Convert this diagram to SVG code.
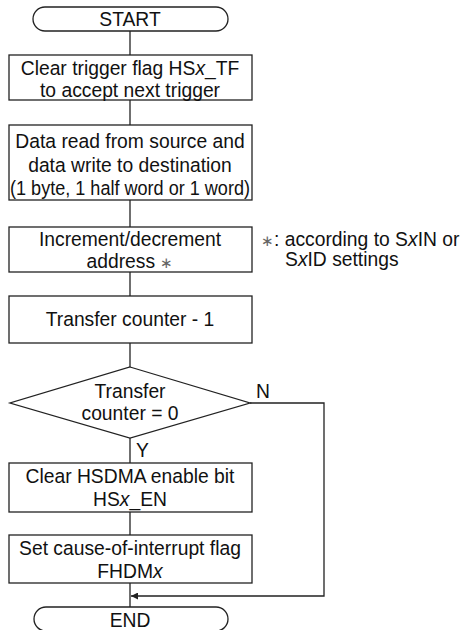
<svg xmlns="http://www.w3.org/2000/svg" width="461" height="630" viewBox="0 0 461 630">
<style>
.s{fill:#fff;stroke:#222;stroke-width:1.3}
.l{fill:none;stroke:#222;stroke-width:1.3}
text{font-family:"Liberation Sans",Arial,sans-serif;font-size:19.3px;fill:#111}
.c{text-anchor:middle}
.i{font-style:italic}
.ast{fill:#666;font-size:15px}
</style>
<defs>
<marker id="ah" viewBox="0 0 10 10" refX="10" refY="5" markerWidth="10" markerHeight="7" markerUnits="userSpaceOnUse" orient="auto">
<path d="M0,0 L10,5 L0,10 Z" fill="#222"/>
</marker>
</defs>
<g id="connectors">
<line class="l" x1="130" y1="31" x2="130" y2="55"/>
<line class="l" x1="130" y1="100" x2="130" y2="125"/>
<line class="l" x1="130" y1="200" x2="130" y2="227"/>
<line class="l" x1="130" y1="272" x2="130" y2="296"/>
<line class="l" x1="130" y1="343" x2="130" y2="367"/>
<line class="l" x1="130" y1="438" x2="130" y2="463"/>
<line class="l" x1="130" y1="512" x2="130" y2="535"/>
<line class="l" x1="130" y1="583" x2="130" y2="607"/>
<polyline class="l" points="250,403 324,403 324,596 131,596" marker-end="url(#ah)"/>
<text x="256" y="398">N</text>
<text x="136" y="457">Y</text>
</g>
<g id="start">
<path class="s" d="M45,7 H216 A12,12 0 0 1 216,31 H45 A12,12 0 0 1 45,7 Z"/>
<text class="c" x="130" y="26">START</text>
</g>
<g id="clear-trigger">
<rect class="s" x="9" y="55" width="243" height="45"/>
<text class="c" x="130" y="75">Clear trigger flag HS<tspan class="i">x</tspan>_TF</text>
<text class="c" x="130" y="97">to accept next trigger</text>
</g>
<g id="data-transfer">
<rect class="s" x="9" y="125" width="243" height="75"/>
<text class="c" x="130" y="148">Data read from source and</text>
<text class="c" x="130" y="172">data write to destination</text>
<text class="c" x="130" y="195" textLength="240" lengthAdjust="spacingAndGlyphs">(1 byte, 1 half word or 1 word)</text>
</g>
<g id="increment">
<rect class="s" x="9" y="227" width="243" height="45"/>
<text class="c" x="130" y="246">Increment/decrement</text>
<text class="c" x="130" y="268">address <tspan class="ast">∗</tspan></text>
</g>
<g id="note">
<text x="261" y="246"><tspan class="ast">∗</tspan>:  according to S<tspan class="i">x</tspan>IN or</text>
<text x="285" y="266">S<tspan class="i">x</tspan>ID settings</text>
</g>
<g id="counter-dec">
<rect class="s" x="9" y="296" width="243" height="47"/>
<text class="c" x="130" y="326">Transfer counter - 1</text>
</g>
<g id="decision">
<polygon class="s" points="130,367 250,403 130,438 10,403"/>
<text class="c" x="130" y="398">Transfer</text>
<text class="c" x="130" y="420">counter = 0</text>
</g>
<g id="clear-enable">
<rect class="s" x="9" y="463" width="243" height="49"/>
<text class="c" x="130" y="483">Clear HSDMA enable bit</text>
<text class="c" x="130" y="506">HS<tspan class="i">x</tspan>_EN</text>
</g>
<g id="set-flag">
<rect class="s" x="9" y="535" width="243" height="48"/>
<text class="c" x="130" y="555">Set cause-of-interrupt flag</text>
<text class="c" x="130" y="578">FHDM<tspan class="i">x</tspan></text>
</g>
<g id="end">
<path class="s" d="M46,607 H216 A12,12 0 0 1 216,631 H46 A12,12 0 0 1 46,607 Z"/>
<text class="c" x="130" y="627">END</text>
</g>
</svg>
